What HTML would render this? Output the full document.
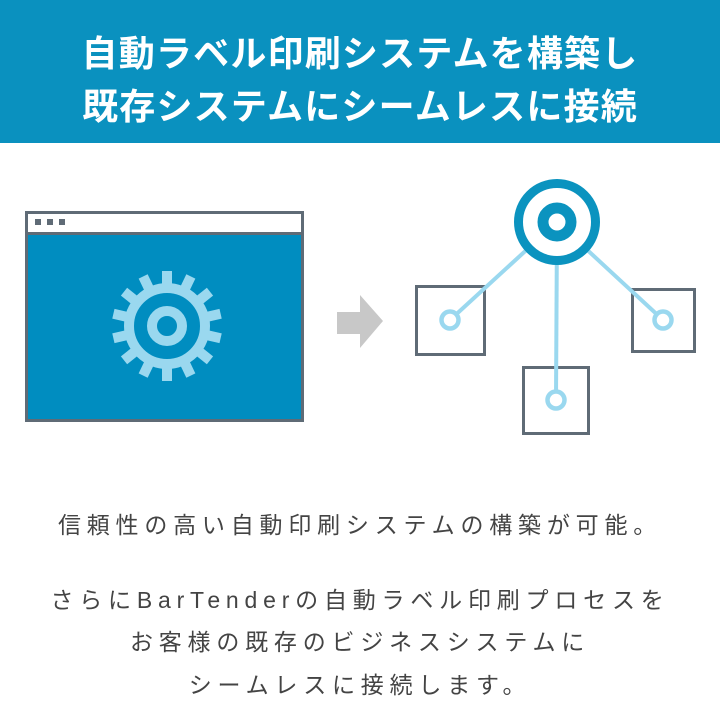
<!DOCTYPE html>
<html><head><meta charset="utf-8"><style>
html,body{margin:0;padding:0;width:720px;height:720px;background:#fff;overflow:hidden}
.hd{position:absolute;left:0;top:0;width:720px;height:143px;background:#0a91bf}
.t{position:absolute;left:0;width:720px;text-align:center;color:#fff;font:bold 36px "Liberation Sans","Noto Sans CJK JP",sans-serif;letter-spacing:1.2px;white-space:nowrap}
.b{position:absolute;left:0;width:720px;text-align:center;color:#444;font:23px "Liberation Sans","Noto Sans CJK JP",sans-serif;letter-spacing:5.8px;white-space:nowrap}
</style></head><body>
<div class="hd"></div>
<div class="t" style="top:25px">自動ラベル印刷システムを構築し</div>
<div class="t" style="top:78px">既存システムにシームレスに接続</div>
<svg style="position:absolute;left:0;top:0" width="720" height="720">
<rect x="26.5" y="212.5" width="276" height="208" fill="#008dc0" stroke="#5f6b76" stroke-width="3"/>
<rect x="28" y="214" width="273" height="18" fill="#fff"/>
<rect x="28" y="232" width="273" height="3" fill="#5f6b76"/>
<rect x="35" y="219" width="6" height="6" fill="#5f6b76"/>
<rect x="47" y="219" width="6" height="6" fill="#5f6b76"/>
<rect x="59" y="219" width="6" height="6" fill="#5f6b76"/>
<g transform="translate(167,326)" fill="#9ad8ef">
<circle r="38" fill="none" stroke="#9ad8ef" stroke-width="10"/>
<circle r="15" fill="none" stroke="#9ad8ef" stroke-width="10"/>
<g id="tt"><rect x="-5" y="-55" width="10" height="18"/></g>
<use href="#tt" transform="rotate(25.7)"/><use href="#tt" transform="rotate(51.4)"/><use href="#tt" transform="rotate(77.1)"/><use href="#tt" transform="rotate(102.9)"/><use href="#tt" transform="rotate(128.6)"/><use href="#tt" transform="rotate(154.3)"/><use href="#tt" transform="rotate(180)"/><use href="#tt" transform="rotate(205.7)"/><use href="#tt" transform="rotate(231.4)"/><use href="#tt" transform="rotate(257.1)"/><use href="#tt" transform="rotate(282.9)"/><use href="#tt" transform="rotate(308.6)"/><use href="#tt" transform="rotate(334.3)"/>
</g>
<polygon points="337,312 360,312 360,295 383,321 360,348 360,334 337,334" fill="#c8c8c8"/>
<rect x="416.5" y="286.5" width="68" height="68" fill="none" stroke="#5f6b76" stroke-width="3"/>
<rect x="632.5" y="289.5" width="62" height="62" fill="none" stroke="#5f6b76" stroke-width="3"/>
<rect x="523.5" y="367.5" width="65" height="66" fill="none" stroke="#5f6b76" stroke-width="3"/>
<g stroke="#9ad8ef" stroke-width="4" fill="none">
<line x1="557" y1="222" x2="450" y2="320"/>
<line x1="557" y1="222" x2="663" y2="320"/>
<line x1="557" y1="222" x2="556" y2="400"/>
</g>
<g stroke="#9ad8ef" stroke-width="4.5" fill="#fff">
<circle cx="450" cy="320" r="8.5"/><circle cx="663" cy="320" r="8.5"/><circle cx="556" cy="400" r="8.5"/>
</g>
<circle cx="557" cy="222" r="38.5" fill="#fff" stroke="#0b93bf" stroke-width="9"/>
<circle cx="557" cy="222" r="14" fill="none" stroke="#0b93bf" stroke-width="11"/>
</svg>
<div class="b" style="top:506px">信頼性の高い自動印刷システムの構築が可能。</div>
<div class="b" style="top:581px">さらにBarTenderの自動ラベル印刷プロセスを</div>
<div class="b" style="top:623px">お客様の既存のビジネスシステムに</div>
<div class="b" style="top:666px">シームレスに接続します。</div>
</body></html>
